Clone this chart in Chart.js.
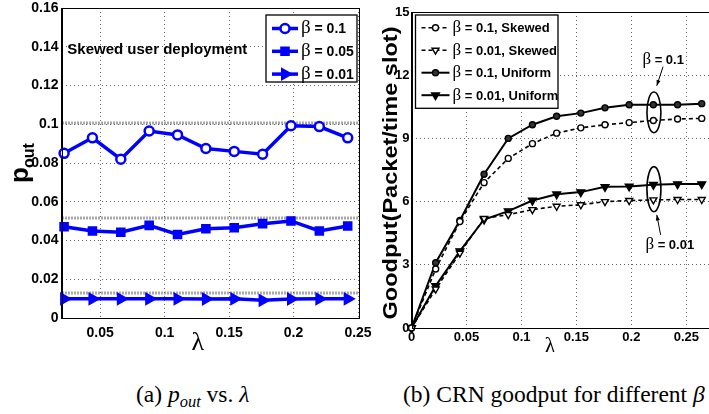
<!DOCTYPE html>
<html>
<head>
<meta charset="utf-8">
<title>p_out and goodput vs lambda</title>
<script src="https://cdn.jsdelivr.net/npm/chart.js@4.4.0/dist/chart.umd.min.js"></script>
<style>
    html, body { margin: 0; padding: 0; background: #fff; width: 709px; height: 414px; overflow: hidden; }
    #panel-a { position: absolute; left: 0; top: 0; }
    #panel-b { position: absolute; left: 370px; top: 0; }
    .caption { position: absolute; top: 381px; font-family: 'Liberation Serif', 'Times New Roman', serif; font-size: 23.5px; color: #000; white-space: nowrap; }
    .caption sub { font-size: 70%; vertical-align: -5px; line-height: 0; }
</style>
</head>
<body>
<canvas id="panel-a" width="378" height="352"></canvas>
<canvas id="panel-b" width="346" height="352"></canvas>
<div class="caption" id="cap-a" style="left:136px">(a) <i>p<sub>out</sub></i> vs. <i>λ</i></div>
<div class="caption" id="cap-b" style="left:403px">(b) CRN goodput for different <i>β</i></div>
<script>

//panel (a): outage probability, skewed deployment
var lambdaA   = [0.022, 0.044, 0.066, 0.088, 0.11, 0.132, 0.154, 0.176, 0.198, 0.22, 0.242];
var poutB01   = [0.085, 0.093, 0.082, 0.0965, 0.0945, 0.0875, 0.086, 0.0845, 0.0992, 0.0988, 0.093];
var poutB005  = [0.0471, 0.0449, 0.0443, 0.0478, 0.0431, 0.0461, 0.0466, 0.0487, 0.0501, 0.0449, 0.0475];
var poutB001  = [0.0099, 0.0099, 0.0099, 0.0099, 0.0099, 0.0098, 0.0099, 0.0091, 0.0098, 0.0099, 0.0099];
var poutNames = ['β = 0.1', 'β = 0.05', 'β = 0.01'];
var poutGuide = [0.1005, 0.0515, 0.0128];
var poutTickX = [0.05, 0.1, 0.15, 0.2, 0.25];
var poutTickY = [0, 0.02, 0.04, 0.06, 0.08, 0.1, 0.12, 0.14, 0.16];
var poutNote  = 'Skewed user deployment';

//panel (b): goodput
var lambdaB   = [0, 0.022, 0.044, 0.066, 0.088, 0.11, 0.132, 0.154, 0.176, 0.198, 0.22, 0.242, 0.264];
var gpSkew01  = [0, 2.8, 5.05, 6.9, 8.05, 8.75, 9.25, 9.5, 9.65, 9.75, 9.85, 9.92, 9.95];
var gpSkew001 = [0, 1.85, 3.55, 5.2, 5.38, 5.62, 5.78, 5.85, 6.0, 6.05, 6.08, 6.1, 6.1];
var gpUni01   = [0, 3.1, 5.1, 7.3, 9.0, 9.65, 10.05, 10.2, 10.45, 10.6, 10.6, 10.6, 10.65];
var gpUni001  = [0, 2.0, 3.65, 5.15, 5.55, 6.05, 6.35, 6.45, 6.7, 6.72, 6.8, 6.83, 6.83];
var gpNames   = ['β = 0.1, Skewed', 'β = 0.01, Skewed', 'β = 0.1, Uniform', 'β = 0.01, Uniform'];
var gpTickX   = [0, 0.05, 0.1, 0.15, 0.2, 0.25];
var gpTickY   = [0, 3, 6, 9, 12, 15];
var gpMarks   = ['β = 0.1', 'β = 0.01'];

var SANS   = "'Liberation Sans', Arial, Helvetica, sans-serif";
var NARROW = "'Liberation Sans Narrow', 'Liberation Sans', Arial, sans-serif";
var SERIF  = "'Liberation Serif', 'Times New Roman', serif";
var BLUE   = '#0000ff';

Chart.defaults.font.family = SANS;
Chart.defaults.color = '#000';

var Figure = {

    /**
     * pairs
     * @param  {Array} xs
     * @param  {Array} ys
     * @return {Array}
     **/
    pairs: function (xs, ys) {
        return xs.map(function (x, i) { return {x: x, y: ys[i]}; });
    },

    /**
     * scale - shared linear axis setup, fixed tick list, dotted grid
     * @return {Object}
     **/
    scale: function (min, max, ticks, font, pad, size, isX) {
        return {
            type: 'linear',
            min: min,
            max: max,
            afterBuildTicks: function (s) {
                s.ticks = ticks.map(function (v) { return {value: v}; });
            },
            afterFit: function (s) {
                if (isX) {
                    s.height = size;
                    s.paddingLeft = 0;
                    s.paddingRight = 0;
                } else {
                    s.width = size;
                    s.paddingTop = 0;
                    s.paddingBottom = 0;
                }
            },
            ticks: {
                padding: pad,
                autoSkip: false,
                maxRotation: 0,
                font: font,
                color: '#000',
                callback: function (v) { return String(parseFloat(v.toFixed(3))); }
            },
            grid: { color: 'rgba(0,0,0,0.6)', lineWidth: 1, drawTicks: false },
            border: { display: true, color: '#000', width: 1, dash: [1, 3] }
        };
    },

    /**
     * legend - boxed legend with line sample, marker and label
     * @return {void}
     **/
    legend: function (chart, box, names, sizes) {
        var ctx = chart.ctx, metas = chart.data.datasets, i, ds, y, x0, x1;

        ctx.save();
        ctx.fillStyle = '#fff';
        ctx.strokeStyle = '#000';
        ctx.lineWidth = 1.3;
        ctx.fillRect(box.x, box.y, box.w, box.h);
        ctx.strokeRect(box.x, box.y, box.w, box.h);

        for (i = 0; i < names.length; i++) {
            ds = metas[i];
            y = box.y + box.first + i * box.step;
            x0 = box.x + 6;
            x1 = box.x + box.line;

            ctx.setLineDash(ds.borderDash || []);
            ctx.strokeStyle = ds.borderColor;
            ctx.lineWidth = ds.borderWidth;
            ctx.beginPath();
            ctx.moveTo(x0, y);
            ctx.lineTo(x1, y);
            ctx.stroke();
            ctx.setLineDash([]);

            ctx.fillStyle = ds.pointBackgroundColor;
            ctx.strokeStyle = ds.borderColor;
            ctx.lineWidth = ds.pointBorderWidth;
            Chart.helpers.drawPoint(ctx, {
                pointStyle: ds.pointStyle,
                radius: ds.pointRadius,
                rotation: ds.pointRotation || 0,
                borderWidth: ds.pointBorderWidth
            }, (x0 + x1) / 2, y);

            this.betaText(ctx, names[i], x1 + 3, y, sizes);
        }
        ctx.restore();
    },

    /**
     * betaText - symbol-font beta followed by bold sans text
     * @return {void}
     **/
    betaText: function (ctx, label, x, y, sizes) {
        var head = label.charAt(0), rest = label.slice(1);

        ctx.fillStyle = '#000';
        ctx.textBaseline = 'middle';
        ctx.textAlign = 'left';
        ctx.font = sizes[0] + 'px ' + SERIF;
        ctx.fillText(head, x, y);
        x += ctx.measureText(head).width;
        ctx.font = 'bold ' + sizes[1] + 'px ' + SANS;
        ctx.fillText(rest, x, y + 1);
    },

    /**
     * frame - closes the axes box
     * @return {void}
     **/
    frame: function (chart) {
        var a = chart.chartArea, ctx = chart.ctx;

        ctx.save();
        ctx.strokeStyle = '#000';
        ctx.lineWidth = 1;
        ctx.strokeRect(Math.round(a.left) + 0.5, Math.round(a.top) + 0.5,
            Math.round(a.right - a.left), Math.round(a.bottom - a.top));
        ctx.restore();
    },

    /**
     * stretchedText - rotated text fitted to a target length
     * @return {void}
     **/
    stretchedText: function (ctx, text, font, cx, cy, len) {
        ctx.save();
        ctx.font = font;
        ctx.translate(cx, cy);
        ctx.rotate(-Math.PI / 2);
        ctx.scale(len / ctx.measureText(text).width, 1);
        ctx.textAlign = 'center';
        ctx.textBaseline = 'middle';
        ctx.fillStyle = '#000';
        ctx.fillText(text, 0, 0);
        ctx.restore();
    },

    /**
     * initPout - panel (a)
     * @return {void}
     **/
    initPout: function () {

        var that = this;

        var deco = {
            id: 'poutDeco',
            beforeDatasetsDraw: function (chart) {
                var ctx = chart.ctx, a = chart.chartArea, ys = chart.scales.y;

                //heavy dotted guide lines at each beta level
                ctx.save();
                ctx.strokeStyle = '#555';
                ctx.lineWidth = 3;
                ctx.setLineDash([1, 2]);
                poutGuide.forEach(function (v) {
                    var py = Math.round(ys.getPixelForValue(v));
                    ctx.beginPath();
                    ctx.moveTo(a.left + 1, py);
                    ctx.lineTo(a.right, py);
                    ctx.stroke();
                });
                ctx.restore();
            },
            afterDraw: function (chart) {
                var ctx = chart.ctx, a = chart.chartArea, xs = chart.scales.x, ys = chart.scales.y;

                that.frame(chart);

                ctx.save();
                ctx.fillStyle = '#000';
                ctx.font = 'bold 15px ' + SANS;
                ctx.textBaseline = 'middle';
                ctx.fillText(poutNote, xs.getPixelForValue(0.0245), ys.getPixelForValue(0.1385));

                //y title: p with subscript "out"
                ctx.translate(24, 160);
                ctx.rotate(-Math.PI / 2);
                ctx.textBaseline = 'alphabetic';
                ctx.textAlign = 'left';
                ctx.font = 'bold 26px ' + SANS;
                ctx.fillText('p', -23, 4);
                ctx.font = 'bold 16px ' + SANS;
                ctx.fillText('out', -8, 10);
                ctx.restore();

                ctx.save();
                ctx.font = '26px ' + SERIF;
                ctx.textAlign = 'center';
                ctx.textBaseline = 'middle';
                ctx.fillStyle = '#000';
                ctx.fillText('λ', (a.left + a.right) / 2 - 12, 343);
                ctx.restore();

                that.legend(chart, {x: a.right - 92, y: 15, w: 91, h: 67, first: 13.5, step: 22.8, line: 32},
                    poutNames, [19, 14]);
            }
        };

        var line = function (label, ys, style, radius, fill, rot) {
            return {
                label: label,
                data: that.pairs(lambdaA, ys),
                borderColor: BLUE,
                borderWidth: 3.5,
                pointStyle: style,
                pointRadius: radius,
                pointRotation: rot || 0,
                pointBackgroundColor: fill,
                pointBorderColor: BLUE,
                pointBorderWidth: 2.5,
                clip: false
            };
        };

        new Chart(document.getElementById('panel-a'), {
            type: 'line',
            data: {
                datasets: [
                    line(poutNames[0], poutB01, 'circle', 4.5, '#fff'),
                    line(poutNames[1], poutB005, 'rect', 5, BLUE),
                    line(poutNames[2], poutB001, 'triangle', 5.5, BLUE, 90)
                ]
            },
            options: {
                responsive: false,
                animation: false,
                layout: { padding: {top: 7, right: 20, left: 0, bottom: 0} },
                plugins: { legend: {display: false}, tooltip: {enabled: false} },
                scales: {
                    x: that.scale(0.02, 0.25, poutTickX, {size: 14, weight: 'bold'}, 7, 34, true),
                    y: that.scale(0, 0.16, poutTickY, {size: 14, weight: 'bold'}, 3, 61.5, false)
                }
            },
            plugins: [deco]
        });
    },

    /**
     * initGoodput - panel (b)
     * @return {void}
     **/
    initGoodput: function () {

        var that = this;

        var deco = {
            id: 'gpDeco',
            afterDraw: function (chart) {
                var ctx = chart.ctx, a = chart.chartArea, xs = chart.scales.x, ys = chart.scales.y;
                var spots = [
                    {lo: 9.27, hi: 11.2, text: [0.2264, 12.76], from: [0.2288, 12.4], to: [0.2231, 11.5]},
                    {lo: 5.52, hi: 7.66, text: [0.2291, 3.95], from: [0.2266, 4.42], to: [0.2231, 5.37]}
                ];

                that.frame(chart);

                //callouts around the lambda = 0.22 pair
                spots.forEach(function (s, i) {
                    var cx = xs.getPixelForValue(0.2205),
                        top = ys.getPixelForValue(s.hi),
                        bot = ys.getPixelForValue(s.lo),
                        fx = xs.getPixelForValue(s.from[0]), fy = ys.getPixelForValue(s.from[1]),
                        tx = xs.getPixelForValue(s.to[0]), ty = ys.getPixelForValue(s.to[1]),
                        ang = Math.atan2(ty - fy, tx - fx);

                    ctx.save();
                    ctx.strokeStyle = '#000';
                    ctx.lineWidth = 1.6;
                    ctx.beginPath();
                    ctx.ellipse(cx, (top + bot) / 2, 7, (bot - top) / 2, 0, 0, Math.PI * 2);
                    ctx.stroke();

                    ctx.lineWidth = 1;
                    ctx.beginPath();
                    ctx.moveTo(fx, fy);
                    ctx.lineTo(tx, ty);
                    ctx.stroke();
                    ctx.fillStyle = '#000';
                    ctx.beginPath();
                    ctx.moveTo(tx, ty);
                    ctx.lineTo(tx - 6 * Math.cos(ang - 0.35), ty - 6 * Math.sin(ang - 0.35));
                    ctx.lineTo(tx - 6 * Math.cos(ang + 0.35), ty - 6 * Math.sin(ang + 0.35));
                    ctx.closePath();
                    ctx.fill();

                    that.betaText(ctx, gpMarks[i], xs.getPixelForValue(s.text[0]) - 18,
                        ys.getPixelForValue(s.text[1]), [17, 13]);
                    ctx.restore();
                });

                that.stretchedText(ctx, 'Goodput(Packet/time slot)', 'bold 20px ' + SANS, 21, 173, 293);

                ctx.save();
                ctx.font = '23px ' + SERIF;
                ctx.textAlign = 'center';
                ctx.textBaseline = 'middle';
                ctx.fillStyle = '#000';
                ctx.fillText('λ', 180, 347);
                ctx.restore();

                that.legend(chart, {x: a.left + 4, y: 15, w: 142.5, h: 93.3, first: 12.7, step: 22.5, line: 34},
                    gpNames, [17, 13]);
            }
        };

        var line = function (label, ys, dashed, style, radius, fill, rot) {
            return {
                label: label,
                data: that.pairs(lambdaB, ys),
                borderColor: '#000',
                borderWidth: dashed ? 1.6 : 2,
                borderDash: dashed ? [4, 3] : [],
                pointStyle: style,
                pointRadius: radius,
                pointRotation: rot || 0,
                pointBackgroundColor: fill,
                pointBorderColor: '#000',
                pointBorderWidth: 1.4,
                clip: false
            };
        };

        new Chart(document.getElementById('panel-b'), {
            type: 'line',
            data: {
                datasets: [
                    line(gpNames[0], gpSkew01, true, 'circle', 3, '#fff'),
                    line(gpNames[1], gpSkew001, true, 'triangle', 4, '#fff', 180),
                    line(gpNames[2], gpUni01, false, 'circle', 3, '#333'),
                    line(gpNames[3], gpUni001, false, 'triangle', 4.5, '#000', 180)
                ]
            },
            options: {
                responsive: false,
                animation: false,
                layout: { padding: {top: 12, right: 3, left: 0, bottom: 0} },
                plugins: { legend: {display: false}, tooltip: {enabled: false} },
                scales: {
                    x: that.scale(0, 0.2716, gpTickX, {size: 13, weight: 'bold', family: NARROW}, 2, 24, true),
                    y: that.scale(0, 15, gpTickY, {size: 13, weight: 'bold', family: NARROW}, 2, 41.5, false)
                }
            },
            plugins: [deco]
        });
    },

    init: function () {
        this.initPout();
        this.initGoodput();
    }
};

Figure.init();
</script>
</body>
</html>
